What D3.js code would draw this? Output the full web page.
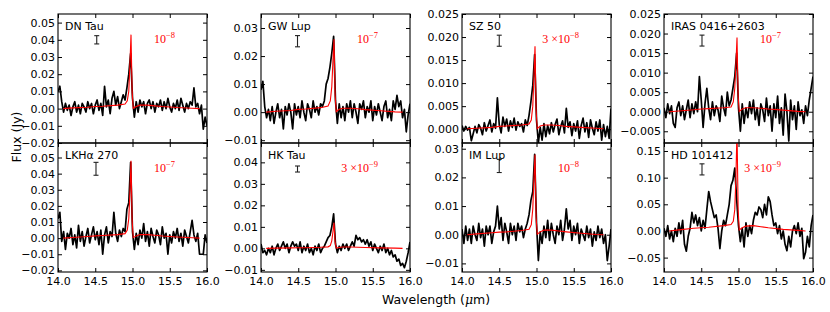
<!DOCTYPE html>
<html>
<head>
<meta charset="utf-8">
<script src="https://cdn.jsdelivr.net/npm/d3@7"></script>
<style>
  body { margin: 0; background: #fff; }
  text { font-family: "DejaVu Sans", sans-serif; }
  .frame { fill: none; stroke: #000; stroke-width: 1.1; }
  .tick line { stroke: #000; stroke-width: 1; }
  .domain { display: none; }
</style>
</head>
<body>
<div id="chart-container"></div>
<script>
// wavelength grid (micron) of the observed spectra
var wavelength = [14.000,14.025,14.050,14.075,14.100,14.125,14.150,14.175,14.200,14.225,14.250,14.275,14.300,14.325,14.350,14.375,14.400,14.425,14.450,14.475,14.500,14.525,14.550,14.575,14.600,14.625,14.650,14.675,14.700,14.725,14.750,14.775,14.800,14.825,14.850,14.875,14.900,14.925,14.950,14.975,15.000,15.025,15.050,15.075,15.100,15.125,15.150,15.175,15.200,15.225,15.250,15.275,15.300,15.325,15.350,15.375,15.400,15.425,15.450,15.475,15.500,15.525,15.550,15.575,15.600,15.625,15.650,15.675,15.700,15.725,15.750,15.775,15.800,15.825,15.850,15.875,15.900,15.925,15.950,15.975,16.000];

var fluxDNTau = [0.010,0.013,0.004,-0.002,0.003,-0.001,0.002,-0.004,0.001,0.004,-0.002,0.002,-0.003,0.003,0.001,-0.002,0.004,0.000,0.003,-0.003,0.002,0.005,-0.001,0.003,-0.004,0.013,0.001,0.005,-0.003,0.006,0.010,0.002,0.007,0.000,0.004,0.008,0.005,0.012,0.020,0.032,0.006,-0.005,0.004,-0.002,0.005,0.001,0.004,-0.003,0.003,0.005,0.000,0.004,-0.002,0.003,0.001,0.005,-0.001,0.004,0.000,0.006,0.001,-0.002,0.003,0.000,0.005,-0.001,0.006,0.002,-0.002,0.003,0.000,0.004,0.002,0.012,0.001,0.003,-0.003,0.002,-0.012,-0.005,-0.010];
var fluxGWLup = [0.008,0.011,0.002,-0.002,0.001,-0.003,0.002,-0.004,0.000,0.003,-0.002,0.001,-0.006,0.002,-0.001,0.003,0.000,-0.006,0.003,-0.001,0.002,-0.002,0.004,0.000,-0.003,0.003,0.001,-0.002,0.004,0.000,0.002,-0.001,0.003,0.002,0.004,0.010,0.012,0.016,0.021,0.027,0.004,-0.004,0.003,-0.002,0.002,-0.003,0.003,0.000,0.004,-0.002,0.003,0.000,-0.004,0.003,0.001,0.004,-0.002,0.002,0.000,0.004,-0.003,0.002,-0.001,0.003,0.000,-0.003,0.002,0.004,-0.002,0.001,-0.003,0.004,0.001,0.006,0.002,0.004,-0.002,0.001,-0.007,-0.001,0.003];
var fluxSZ50 = [0.0008,-0.0004,0.0006,-0.0002,0.0004,-0.0025,-0.0010,0.0006,-0.0008,0.0010,0.0002,-0.0012,0.0014,-0.0004,0.0008,0.0020,-0.0006,0.0012,0.0002,0.0068,0.0010,-0.0008,0.0026,0.0006,0.0022,-0.0004,0.0018,0.0004,0.0024,-0.0002,0.0016,0.0006,0.0012,-0.0006,0.0020,0.0008,0.0030,0.0060,0.0095,0.0162,0.0020,-0.0030,0.0004,-0.0024,0.0012,-0.0016,0.0008,-0.0010,0.0014,-0.0006,0.0010,0.0022,-0.0012,0.0006,0.0018,-0.0008,0.0045,0.0004,0.0016,-0.0014,0.0012,-0.0004,0.0018,-0.0020,0.0008,0.0024,-0.0006,0.0014,-0.0018,0.0020,0.0002,-0.0012,0.0016,-0.0004,0.0020,-0.0024,0.0010,-0.0016,0.0006,-0.0020,0.0045];
var fluxIRAS = [0.0010,-0.0015,0.0020,-0.0005,0.0015,-0.0030,-0.0040,0.0010,0.0025,-0.0010,0.0015,-0.0020,0.0005,0.0030,-0.0015,0.0020,-0.0005,0.0025,0.0000,0.0090,0.0030,-0.0040,0.0020,0.0060,0.0010,-0.0020,0.0025,-0.0010,0.0015,0.0005,-0.0025,0.0040,0.0010,-0.0010,0.0050,0.0015,0.0030,0.0060,0.0090,0.0150,0.0010,-0.0050,0.0020,-0.0030,0.0010,-0.0015,0.0025,-0.0005,0.0030,-0.0020,0.0010,-0.0035,0.0020,0.0005,-0.0025,0.0035,-0.0010,0.0015,-0.0050,0.0020,-0.0015,0.0040,-0.0030,0.0010,-0.0060,0.0045,0.0000,-0.0075,0.0030,-0.0020,0.0015,-0.0045,0.0025,-0.0010,0.0005,-0.0030,0.0015,-0.0010,0.0030,0.0060,0.0090];
var fluxLKHa = [0.012,0.016,-0.002,0.004,-0.007,0.003,0.000,0.006,-0.004,0.002,-0.006,0.008,-0.002,0.004,-0.005,0.001,0.006,-0.003,0.002,0.007,-0.001,0.004,-0.004,0.005,-0.010,0.002,0.007,-0.003,0.004,0.001,0.016,0.003,-0.002,0.005,0.001,0.006,0.004,0.018,0.022,0.047,0.004,-0.007,0.003,-0.004,0.005,0.000,0.009,-0.002,0.004,-0.005,0.006,0.001,-0.003,0.005,0.002,-0.004,0.007,0.000,0.003,-0.010,0.002,-0.003,0.004,0.000,0.006,-0.002,0.003,-0.005,0.005,0.001,-0.003,0.004,0.011,0.002,-0.002,0.003,-0.010,-0.010,-0.010,0.002,-0.003];
var fluxHKTau = [0.002,-0.002,-0.001,-0.003,0.000,-0.002,0.001,-0.003,0.000,0.002,-0.001,0.001,0.003,0.000,0.002,-0.002,0.001,0.003,0.001,0.002,-0.001,0.003,-0.002,0.001,-0.001,0.002,-0.002,0.000,-0.003,0.001,-0.001,0.002,-0.002,0.000,0.001,0.003,0.005,0.006,0.010,0.016,0.002,-0.002,0.001,-0.001,0.002,0.000,0.002,-0.001,0.001,0.003,0.001,0.006,0.004,0.005,0.003,0.004,0.002,0.004,0.001,0.003,-0.001,0.002,0.000,-0.002,0.001,-0.001,0.002,-0.002,0.000,-0.003,-0.001,-0.004,-0.003,-0.006,-0.005,-0.008,-0.007,-0.009,-0.006,-0.002,0.003];
var fluxIMLup = [0.002,-0.003,0.003,-0.002,0.002,-0.003,0.003,0.000,-0.002,0.004,-0.001,0.002,-0.004,0.003,0.000,0.003,-0.003,0.001,0.003,0.010,0.002,0.006,-0.002,0.004,0.001,-0.003,0.004,0.000,0.003,-0.002,0.004,0.001,0.003,-0.001,0.002,0.004,0.007,0.012,0.015,0.028,0.004,-0.009,0.001,-0.003,0.003,-0.001,0.005,-0.002,0.004,0.000,-0.003,0.003,0.000,0.005,-0.002,0.002,0.009,0.002,0.005,-0.002,0.003,0.000,0.004,-0.003,0.002,0.000,-0.002,0.003,-0.001,0.002,-0.004,0.001,-0.002,0.003,-0.001,0.002,-0.003,0.000,-0.009,-0.004,0.002];
var fluxHD101412 = [0.005,-0.010,0.010,-0.015,0.000,-0.020,0.005,-0.010,0.015,-0.005,0.020,-0.025,-0.038,-0.010,0.005,0.035,0.015,0.030,0.010,0.025,0.000,0.020,0.005,0.040,0.074,0.055,0.040,0.025,0.030,0.005,-0.033,0.000,0.020,0.010,0.030,0.050,0.085,0.095,0.118,0.060,0.010,-0.020,0.005,-0.030,0.015,-0.010,0.010,-0.005,0.020,0.035,0.030,0.045,0.040,0.025,0.050,0.030,0.064,0.055,0.030,0.010,0.015,-0.005,0.010,-0.015,0.000,-0.025,-0.037,-0.010,-0.030,0.000,0.010,-0.005,0.015,-0.010,0.005,-0.052,-0.040,-0.010,-0.030,0.010,0.030];

// CO2 slab model (red), sampled at these wavelengths
var modelWave = [14.07,14.20,14.40,14.50,14.60,14.80,14.90,14.93,14.95,14.965,14.98,14.995,15.01,15.05,15.10,15.20,15.30,15.40,15.60,15.80,15.90];
var modelDNTau = [0.0,0.0004,0.0008,0.0012,0.0014,0.0020,0.0027,0.0045,0.010,0.025,0.043,0.010,0.0002,0.0012,0.0020,0.0020,0.0016,0.0012,0.0006,0.0002,0.0];
var modelGWLup = [0.0,0.0003,0.0006,0.0010,0.0011,0.0016,0.0022,0.0040,0.009,0.018,0.026,0.006,0.0002,0.0010,0.0014,0.0014,0.0012,0.0009,0.0005,0.0001,0.0];
var modelSZ50 = [0.0001,0.0002,0.0004,0.0006,0.0007,0.0009,0.0011,0.0020,0.0050,0.011,0.018,0.004,0.0001,0.0007,0.0009,0.0009,0.0008,0.0006,0.0004,0.0002,0.0001];
var modelIRAS = [0.0,0.0002,0.0005,0.0007,0.0008,0.0010,0.0012,0.0025,0.0060,0.012,0.019,0.004,0.0001,0.0007,0.0010,0.0010,0.0009,0.0007,0.0004,0.0001,0.0];
var modelLKHa = [0.0,0.0004,0.0010,0.0014,0.0016,0.0022,0.0028,0.005,0.012,0.028,0.048,0.011,0.0003,0.0014,0.0022,0.0022,0.0018,0.0013,0.0007,0.0002,0.0];
var modelHKTau = [0.0,0.0001,0.0002,0.0003,0.0003,0.0005,0.0007,0.0013,0.0035,0.0075,0.012,0.003,0.0001,0.0004,0.0006,0.0006,0.0005,0.0004,0.0002,0.0001,0.0];
var modelIMLup = [0.0,0.0003,0.0007,0.0009,0.0010,0.0015,0.0019,0.0035,0.009,0.019,0.028,0.006,0.0002,0.0010,0.0016,0.0016,0.0013,0.0010,0.0005,0.0001,0.0];
var modelHD101412 = [0.0,0.002,0.005,0.006,0.007,0.010,0.012,0.018,0.040,0.100,0.190,0.040,0.002,0.006,0.009,0.010,0.008,0.006,0.003,0.001,0.0];

var names = ["DN Tau", "GW Lup", "SZ 50", "IRAS 0416+2603", "LKH\u03b1 270", "HK Tau", "IM Lup", "HD 101412"];
var fluxes = [fluxDNTau, fluxGWLup, fluxSZ50, fluxIRAS, fluxLKHa, fluxHKTau, fluxIMLup, fluxHD101412];
var models = [modelDNTau, modelGWLup, modelSZ50, modelIRAS, modelLKHa, modelHKTau, modelIMLup, modelHD101412];

// red scale labels: coef x 10^exp
var labelCoef = ["", "", "3", "", "", "3", "", "3"];
var labelExp = [-8, -7, -8, -7, -7, -9, -8, -9];

// typical error bar: wavelength, centre, half-length
var errX = [14.52, 14.49, 14.50, 14.51, 14.51, 14.49, 14.50, 14.51];
var errY = [0.040, 0.0253, 0.0192, 0.0182, 0.043, 0.0369, 0.024, 0.1155];
var errHalf = [0.0024, 0.0020, 0.0012, 0.0014, 0.0040, 0.0014, 0.0023, 0.0104];

// y limits and ticks per panel
var yLimits = [[-0.02, 0.055], [-0.011, 0.035], [-0.003, 0.025], [-0.008, 0.025],
               [-0.021, 0.059], [-0.011, 0.049], [-0.013, 0.032], [-0.077, 0.165]];
var yTicks = [[-0.02,-0.01,0,0.01,0.02,0.03,0.04,0.05],
              [-0.01,0,0.01,0.02,0.03],
              [0,0.005,0.01,0.015,0.02,0.025],
              [-0.005,0,0.005,0.01,0.015,0.02,0.025],
              [-0.02,-0.01,0,0.01,0.02,0.03,0.04,0.05],
              [-0.01,0,0.01,0.02,0.03,0.04],
              [-0.01,0,0.01,0.02,0.03],
              [-0.05,0,0.05,0.1,0.15]];
var yFormats = [".2f", ".2f", ".3f", ".3f", ".2f", ".2f", ".2f", ".2f"];
var xTicks = [14.0, 14.5, 15.0, 15.5, 16.0];

var w = 830, h = 312;
var lefts = [58, 261, 462, 664];
var tops = [14, 143];
var pw = 149, ph = 129;
var tickLen = 4;

var svg = d3.select("#chart-container").append("svg")
    .attr("width", w).attr("height", h);

function minus(s){ return s.replace("-", "\u2212"); }

// y label first so tick labels sit on top of it
svg.append("text")
    .attr("transform", "translate(21,137) rotate(-90)")
    .attr("text-anchor", "middle").style("font-size", "12.5px")
    .text("Flux (Jy)");

names.forEach(function(name, i){
    var col = i % 4, row = Math.floor(i / 4);
    var x0 = lefts[col], y0 = tops[row];

    var xScale = d3.scaleLinear().domain([14, 16]).range([0, pw]);
    var yScale = d3.scaleLinear().domain(yLimits[i]).range([ph, 0]);

    var g = svg.append("g").attr("transform", "translate(" + x0 + "," + y0 + ")");

    g.append("clipPath").attr("id", "clip" + i)
        .append("rect").attr("width", pw).attr("height", ph);

    var plot = g.append("g").attr("clip-path", "url(#clip" + i + ")");

    // observed spectrum
    var spec = d3.line()
        .x(function(d, j){ return xScale(wavelength[j]); })
        .y(function(d){ return yScale(d); });
    plot.append("path").datum(fluxes[i])
        .attr("d", spec)
        .attr("fill", "none").attr("stroke", "#000").attr("stroke-width", 1.7)
        .attr("stroke-linejoin", "round");

    // model
    var mod = d3.line()
        .x(function(d, j){ return xScale(modelWave[j]); })
        .y(function(d){ return yScale(d); });
    plot.append("path").datum(models[i])
        .attr("d", mod)
        .attr("fill", "none").attr("stroke", "#ff0000").attr("stroke-width", 1.1);

    // error bar
    var ex = xScale(errX[i]);
    var eTop = yScale(errY[i] + errHalf[i]), eBot = yScale(errY[i] - errHalf[i]);
    g.append("line").attr("x1", ex).attr("x2", ex).attr("y1", eTop).attr("y2", eBot)
        .attr("stroke", "#222").attr("stroke-width", 1.1);
    [eTop, eBot].forEach(function(yy){
        g.append("line").attr("x1", ex - 2.5).attr("x2", ex + 2.5).attr("y1", yy).attr("y2", yy)
            .attr("stroke", "#222").attr("stroke-width", 1.1);
    });

    // axes, inward ticks on all four sides
    var fmt = d3.format(yFormats[i]);
    g.append("g").attr("class", "y-axis")
        .call(d3.axisLeft(yScale).tickValues(yTicks[i]).tickSizeInner(-tickLen).tickSizeOuter(0)
            .tickPadding(3).tickFormat(function(d){ return minus(fmt(d)); }))
        .selectAll("text").style("font-size", "11px").style("font-family", "DejaVu Sans");
    g.append("g").attr("transform", "translate(" + pw + ",0)")
        .call(d3.axisRight(yScale).tickValues(yTicks[i]).tickSizeInner(-tickLen).tickSizeOuter(0)
            .tickFormat(""));
    g.append("g")
        .call(d3.axisTop(xScale).tickValues(xTicks).tickSizeInner(-tickLen).tickSizeOuter(0)
            .tickFormat(""));
    var xAx = g.append("g").attr("transform", "translate(0," + ph + ")")
        .call(d3.axisBottom(xScale).tickValues(xTicks).tickSizeInner(-tickLen).tickSizeOuter(0)
            .tickPadding(5)
            .tickFormat(row == 1 ? d3.format(".1f") : ""));
    xAx.selectAll("text").style("font-size", "11px").style("font-family", "DejaVu Sans");

    g.append("rect").attr("class", "frame").attr("width", pw).attr("height", ph);

    // source name
    g.append("text").attr("x", 7).attr("y", 15.5)
        .style("font-size", "11px").text(name);

    // scale factor label
    var lab = g.append("text").attr("x", 117).attr("y", 29)
        .attr("text-anchor", "end")
        .style("font-family", "Liberation Serif, DejaVu Serif, serif")
        .style("font-size", "12px").attr("fill", "#ff0000");
    lab.append("tspan").text((labelCoef[i] ? labelCoef[i] + " \u00d7" : "") + "10");
    lab.append("tspan").attr("dy", -5).style("font-size", "8.5px")
        .text("\u2212" + Math.abs(labelExp[i]));
});

// x axis title
var xt = svg.append("text").attr("x", 436).attr("y", 304)
    .attr("text-anchor", "middle").style("font-size", "12.5px");
xt.append("tspan").text("Wavelength (");
xt.append("tspan").style("font-style", "italic").style("font-family", "DejaVu Serif").text("\u03bc");
xt.append("tspan").text("m)");
</script>
</body>
</html>
